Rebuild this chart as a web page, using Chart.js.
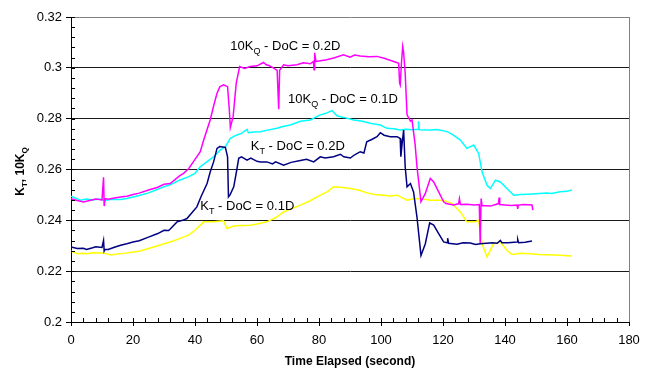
<!DOCTYPE html>
<html>
<head>
<meta charset="utf-8">
<script src="https://cdn.jsdelivr.net/npm/chart.js@4.4.1/dist/chart.umd.min.js"></script>
<style>
  body { margin: 0; background: #fff; }
  #wrap { width: 655px; height: 369px; position: relative; }
</style>
</head>
<body>
<div id="wrap"><canvas id="line-chart"></canvas></div>
<script>
// tick labels
var xTicks = [0, 20, 40, 60, 80, 100, 120, 140, 160, 180];
var yTicks = [0.2, 0.22, 0.24, 0.26, 0.28, 0.3, 0.32];

// 10KQ - DoC = 0.2D (magenta)
var kq02Time = [0,2,4,6,8,10,10.5,10.7,11,12,14,16,18,20,22,25,28,30,32,35,36.3,38,40,41.7,42.8,44.9,46,47.1,48,49.2,50.5,51.1,51.4,52.3,53.3,54.4,56,57.8,60,62.1,63,64,65.4,66.5,67,67.3,68.6,70,72.9,75,77.2,78.2,78.4,78.6,79,80.5,82.5,85,87.9,90,91.5,93.3,96,98.7,101,104.1,105.7,106,106.2,106.6,107,107.3,107.8,108.4,109.5,110,111,111.6,112.9,114.3,115.9,117,118.6,120.2,121,123.4,125,125.3,125.6,127.7,130,131.7,132,132.3,132.6,135.3,137.9,138.1,138.3,140,142,143.9,144.1,144.3,146,148.7,149];
var kq02 = [0.2485,0.2478,0.2472,0.2478,0.2484,0.2480,0.2569,0.2456,0.2485,0.2483,0.2488,0.2492,0.2495,0.2502,0.2507,0.2519,0.2530,0.2542,0.2545,0.2575,0.2585,0.2604,0.2640,0.2670,0.2716,0.2795,0.2850,0.2900,0.2925,0.2933,0.2926,0.2830,0.2765,0.2808,0.2940,0.3005,0.2998,0.3005,0.3008,0.3021,0.3012,0.3008,0.2999,0.2990,0.2837,0.2990,0.3012,0.3008,0.3012,0.3020,0.3016,0.3025,0.2992,0.3059,0.3025,0.3028,0.3032,0.3040,0.3051,0.3042,0.3050,0.3047,0.3044,0.3045,0.3038,0.3025,0.3018,0.2940,0.2933,0.3020,0.3084,0.3060,0.2979,0.2815,0.2790,0.2795,0.2700,0.2611,0.2473,0.2506,0.2565,0.2551,0.2512,0.2473,0.2466,0.2460,0.2465,0.2485,0.2462,0.2463,0.2460,0.2462,0.2309,0.2486,0.2458,0.2456,0.2466,0.2490,0.2462,0.2460,0.2458,0.2460,0.2445,0.2460,0.2462,0.2460,0.2440];

// 10KQ - DoC = 0.1D (cyan)
var kq01Time = [0,1,3,5,7,9,11,13,16,18,20,22,25,28,30,32,35,38,40,41.7,44,46,48.2,49.8,51.4,53.5,55,56.8,57.2,59,61.1,63,66.4,68,70.7,74,77.2,80.4,82,84.2,85.8,88,91.2,94,96.5,99.8,101.9,104,106.2,108,110,112,112.1,112.3,115.9,118,121.3,123,125.6,127.7,129.9,131.5,132.6,134.2,135.3,136.9,138.5,140.6,142.8,145,147.1,150,153.5,155,157.8,160,161.6];
var kq01 = [0.2495,0.2490,0.2479,0.2484,0.2480,0.2484,0.2478,0.2483,0.2482,0.2486,0.2492,0.2498,0.2508,0.2522,0.2532,0.2540,0.2558,0.2572,0.2585,0.2611,0.2632,0.2650,0.2677,0.2690,0.2723,0.2736,0.2742,0.2758,0.2745,0.2748,0.2749,0.2754,0.2762,0.2768,0.2775,0.2790,0.2795,0.2815,0.2820,0.2832,0.2811,0.2805,0.2795,0.2790,0.2782,0.2775,0.2762,0.2760,0.2755,0.2758,0.2756,0.2758,0.2790,0.2756,0.2755,0.2757,0.2749,0.2738,0.2716,0.2683,0.2696,0.2663,0.2591,0.2538,0.2525,0.2558,0.2551,0.2525,0.2499,0.2502,0.2503,0.2505,0.2508,0.2506,0.2512,0.2514,0.2519];

// KT - DoC = 0.2D (navy)
var kt02Time = [0,2,4,5,7,8,10,10.5,10.7,11,12,14,16,18,20,22,25,28,30,31.5,32,34.2,36,37.4,39,40.6,42,43.9,44.9,46,47.1,48,49.8,50.5,50.8,51.3,52.5,53.5,54.1,55,56.8,58,60,61.1,63.2,65,66,68.6,71,74,76,78.3,80.4,82,84.7,86.9,88,90.1,91.5,93.3,94.5,95.4,97,98.7,99.8,101,103,105.2,106.2,106.4,106.8,107.3,107.8,108.4,109.5,110.5,111.6,112.9,114.3,115.7,117,118.6,120.2,121.3,121.5,121.8,124.5,126.5,128.8,130.5,132,134,136,137.5,138.5,139,141,143.9,144.1,144.4,146.5,148.7];
var kt02 = [0.2295,0.2289,0.2290,0.2285,0.2292,0.2296,0.2293,0.2321,0.2279,0.2286,0.2285,0.2294,0.2302,0.2308,0.2315,0.2320,0.2334,0.2348,0.2361,0.2360,0.2366,0.2394,0.2400,0.2407,0.2430,0.2453,0.2495,0.2545,0.2590,0.2630,0.2683,0.2690,0.2687,0.2650,0.2492,0.2500,0.2532,0.2600,0.2644,0.2650,0.2637,0.2645,0.2632,0.2630,0.2630,0.2622,0.2630,0.2617,0.2628,0.2635,0.2640,0.2630,0.2650,0.2645,0.2650,0.2660,0.2650,0.2645,0.2658,0.2670,0.2665,0.2709,0.2718,0.2729,0.2745,0.2735,0.2729,0.2729,0.2722,0.2650,0.2700,0.2755,0.2611,0.2532,0.2545,0.2512,0.2413,0.2262,0.2308,0.2390,0.2381,0.2348,0.2315,0.2312,0.2330,0.2310,0.2306,0.2312,0.2311,0.2305,0.2308,0.2310,0.2312,0.2310,0.2321,0.2312,0.2312,0.2315,0.2325,0.2312,0.2314,0.2319];

// KT - DoC = 0.1D (yellow)
var kt01Time = [0,2,4,5,7,10,11,13,15,17,20,22,25,28,30,32,35,38,40,42.8,46,49.2,50.3,52.5,55,57.8,60,63.2,66,68.6,71,74,77,79.4,82.6,84.7,87,90.1,93,95.5,98,100.8,103,105.2,108.4,110,112.7,115.9,119.1,121,122.9,125.6,127.7,130.4,131.5,132.6,134.2,136.3,138.5,140.6,142.3,145,148.2,151,153.5,156,159,161.6];
var kt01 = [0.2279,0.2269,0.2270,0.2269,0.2272,0.2271,0.2270,0.2264,0.2268,0.2270,0.2275,0.2278,0.2289,0.2300,0.2308,0.2315,0.2328,0.2343,0.2361,0.2394,0.2394,0.2398,0.2368,0.2378,0.2380,0.2381,0.2386,0.2394,0.2410,0.2433,0.2445,0.2460,0.2476,0.2492,0.2512,0.2532,0.2530,0.2525,0.2518,0.2508,0.2502,0.2499,0.2496,0.2499,0.2479,0.2484,0.2486,0.2479,0.2479,0.2475,0.2466,0.2433,0.2394,0.2394,0.2400,0.2308,0.2256,0.2308,0.2315,0.2282,0.2266,0.2270,0.2269,0.2266,0.2265,0.2264,0.2262,0.2260];

// in-plot labels, anchored at data coords (left, baseline)
var notes = [
  { parts: [['10K'], ['Q', 1], [' - DoC = 0.2D']], x: 51.4, y: 0.3070 },
  { parts: [['10K'], ['Q', 1], [' - DoC = 0.1D']], x: 70, y: 0.2862 },
  { parts: [['K'], ['T', 1], [' - DoC = 0.2D']], x: 58, y: 0.2677 },
  { parts: [['K'], ['T', 1], [' - DoC = 0.1D']], x: 41.7, y: 0.2440 }
];

function pts(ts, vs) {
  return ts.map(function (t, i) { return { x: t, y: vs[i] }; });
}

// draws text with subscript pieces, returns width
function drawParts(ctx, parts, x, y, size, bold) {
  var w = bold ? 'bold ' : '';
  parts.forEach(function (p) {
    if (p[1]) {
      ctx.font = w + Math.round(size * 0.7) + 'px "Liberation Sans", Arial';
      ctx.fillText(p[0], x, y + size * 0.28);
    } else {
      ctx.font = w + size + 'px "Liberation Sans", Arial';
      ctx.fillText(p[0], x, y);
    }
    x += ctx.measureText(p[0]).width;
  });
  return x;
}

var extras = {
  id: 'extras',
  afterDraw: function (chart) {
    var ctx = chart.ctx, xs = chart.scales.x, ys = chart.scales.y;
    var a = chart.chartArea;
    ctx.save();
    ctx.strokeStyle = '#000';
    ctx.lineWidth = 1;
    ctx.beginPath();
    // minor ticks on y, inward
    for (var v = 0.2; v < 0.3201; v += 0.004) {
      var py = Math.round(ys.getPixelForValue(v)) + 0.5;
      ctx.moveTo(a.left, py); ctx.lineTo(a.left + 4, py);
    }
    // x ticks inward (major + minor)
    for (var t = 0; t <= 180; t += 4) {
      var px = Math.round(xs.getPixelForValue(t)) + 0.5;
      ctx.moveTo(px, a.bottom); ctx.lineTo(px, a.bottom - 4);
    }
    ctx.stroke();
    // right border of plot
    ctx.strokeStyle = '#808080';
    ctx.beginPath();
    ctx.moveTo(Math.round(a.right) + 0.5, a.top);
    ctx.lineTo(Math.round(a.right) + 0.5, a.bottom);
    ctx.stroke();

    // labels inside plot
    ctx.fillStyle = '#000';
    ctx.textBaseline = 'alphabetic';
    ctx.textAlign = 'left';
    notes.forEach(function (n) {
      drawParts(ctx, n.parts, xs.getPixelForValue(n.x), ys.getPixelForValue(n.y), 13, false);
    });

    // y axis title with subscripts
    var title = [['K'], ['T', 1], [', 10K'], ['Q', 1]];
    ctx.font = 'bold 12px "Liberation Sans", Arial';
    var tw = 0;
    title.forEach(function (p) {
      ctx.font = 'bold ' + (p[1] ? 8 : 12) + 'px "Liberation Sans", Arial';
      tw += ctx.measureText(p[0]).width;
    });
    ctx.translate(24, (a.top + a.bottom) / 2 + 2);
    ctx.rotate(-Math.PI / 2);
    drawParts(ctx, title, -tw / 2, 0, 12, true);
    ctx.restore();
  }
};

Chart.defaults.font.family = '"Liberation Sans", Arial, sans-serif';
Chart.defaults.color = '#000';

new Chart(document.getElementById('line-chart'), {
  type: 'line',
  data: {
    datasets: [
      { label: 'KT - DoC = 0.2D', data: pts(kt02Time, kt02), borderColor: '#000080' },
      { label: '10KQ - DoC = 0.2D', data: pts(kq02Time, kq02), borderColor: '#FF00FF' },
      { label: '10KQ - DoC = 0.1D', data: pts(kq01Time, kq01), borderColor: '#00FFFF' },
      { label: 'KT - DoC = 0.1D', data: pts(kt01Time, kt01), borderColor: '#FFFF00' }
    ]
  },
  options: {
    responsive: true,
    maintainAspectRatio: false,
    animation: false,
    layout: { padding: { left: 0, right: 26, top: 17, bottom: 0 } },
    elements: {
      point: { radius: 0 },
      line: { borderWidth: 1.5, tension: 0, fill: false }
    },
    plugins: {
      legend: { display: false },
      tooltip: { enabled: false }
    },
    scales: {
      x: {
        type: 'linear',
        min: 0, max: 180,
        afterFit: function (s) { s.height = 47; },
        afterBuildTicks: function (s) { s.ticks = xTicks.map(function (v) { return { value: v }; }); },
        ticks: { font: { size: 13 }, padding: 7, maxRotation: 0 },
        grid: { drawOnChartArea: false, tickLength: 4, tickColor: '#000' },
        border: { color: '#000', width: 1 },
        title: {
          display: true,
          text: 'Time Elapsed (second)',
          font: { size: 12, weight: 'bold' },
          padding: { top: 2, bottom: 0 }
        }
      },
      y: {
        min: 0.2, max: 0.32,
        afterFit: function (s) { s.width = 71; },
        afterBuildTicks: function (s) { s.ticks = yTicks.map(function (v) { return { value: v }; }); },
        ticks: {
          font: { size: 13 },
          padding: 4,
          callback: function (v) { return String(Math.round(v * 100) / 100); }
        },
        grid: {
          tickLength: 5,
          tickColor: '#000',
          color: function (c) { return c.tick && c.tick.value > 0.319 ? '#808080' : '#1a1a1a'; }
        },
        border: { color: '#000', width: 1 }
      }
    }
  },
  plugins: [extras]
});
</script>
</body>
</html>
